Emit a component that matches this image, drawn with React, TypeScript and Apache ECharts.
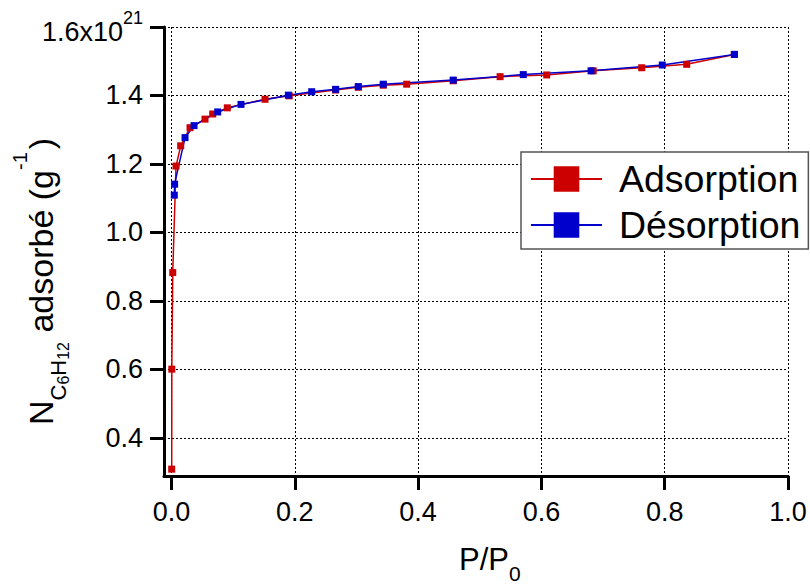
import React, { useEffect, useRef } from 'react';
import * as echarts from 'echarts';

// Adsorption branch (red)
const adsorptionP = [0.0003, 0.0005, 0.002, 0.0073, 0.0149, 0.030, 0.0543, 0.0668, 0.0905, 0.1517, 0.191, 0.266, 0.303, 0.3435, 0.3815, 0.457, 0.533, 0.6086, 0.684, 0.7627, 0.8357, 0.913];
const adsorptionN = [0.309, 0.601, 0.883, 1.194, 1.253, 1.306, 1.331, 1.346, 1.364, 1.389, 1.399, 1.416, 1.424, 1.430, 1.433, 1.443, 1.455, 1.460, 1.472, 1.481, 1.491, 1.520];

// Desorption branch (blue)
const desorptionP = [0.0045, 0.005, 0.0219, 0.0365, 0.0749, 0.1127, 0.1895, 0.2274, 0.2663, 0.303, 0.3435, 0.457, 0.5706, 0.6805, 0.7961, 0.913];
const desorptionN = [1.109, 1.141, 1.277, 1.312, 1.352, 1.374, 1.401, 1.411, 1.418, 1.426, 1.433, 1.445, 1.461, 1.472, 1.489, 1.520];

const xTicks = [0, 0.2, 0.4, 0.6, 0.8, 1.0];
const yTicks = [0.4, 0.6, 0.8, 1.0, 1.2, 1.4, 1.6];
const seriesNames = ['Adsorption', 'Désorption'];
const seriesColors = ['#cc0000', '#0000cc'];

const FONT = 'Liberation Sans';

const isTick = (v: number) => Math.abs(v / 0.2 - Math.round(v / 0.2)) < 1e-6;

export default function App() {
  const ref = useRef<HTMLDivElement>(null);
  useEffect(() => {
    document.body.style.margin = '0';
    const chart = echarts.init(ref.current!, null, { renderer: 'svg' });
    const zip = (xs: number[], ys: number[]) => xs.map((x, i) => [x, ys[i]]);
    const gridLine = { show: true, lineStyle: { color: '#000', width: 1, type: [2, 2] } };
    chart.setOption({
      animation: false,
      backgroundColor: '#fff',
      textStyle: { fontFamily: FONT },
      grid: { left: 164, right: 22, top: 27, bottom: 110 },
      xAxis: {
        type: 'value',
        min: -0.0122,
        max: 1.0,
        minInterval: 0.2,
        maxInterval: 0.2,
        axisLine: { onZero: false, lineStyle: { color: '#000', width: 3 } },
        axisTick: { show: true, inside: false, length: 14, customValues: xTicks, lineStyle: { color: '#000', width: 3 } },
        axisLabel: {
          customValues: xTicks,
          margin: 22,
          color: '#000',
          fontSize: 27,
          fontFamily: FONT,
          formatter: (v: number) => (isTick(v) ? v.toFixed(1) : ''),
        },
        splitLine: gridLine,
      },
      yAxis: {
        type: 'value',
        min: 0.289,
        max: 1.6,
        minInterval: 0.2,
        maxInterval: 0.2,
        axisLine: { show: true, onZero: false, lineStyle: { color: '#000', width: 3 } },
        axisTick: { show: true, inside: false, length: 14, customValues: yTicks, lineStyle: { color: '#000', width: 3 } },
        axisLabel: {
          customValues: yTicks,
          margin: 21,
          color: '#000',
          fontSize: 27,
          fontFamily: FONT,
          formatter: (v: number) => {
            if (!isTick(v)) return '';
            if (Math.abs(v - 1.6) < 1e-6) return '{a|1.6x10}{u|21}';
            return v.toFixed(1);
          },
          rich: {
            a: { fontSize: 27, fontFamily: FONT, color: '#000', verticalAlign: 'bottom' },
            u: { fontSize: 18, fontFamily: FONT, color: '#000', verticalAlign: 'top', padding: [0, 0, 18, 0] },
          },
        },
        splitLine: gridLine,
      },
      legend: {
        data: seriesNames,
        orient: 'vertical',
        left: 521,
        top: 152,
        padding: [8, 8, 5, 9],
        itemGap: 8,
        itemWidth: 71,
        itemHeight: 32,
        backgroundColor: '#fff',
        borderColor: '#555',
        borderWidth: 1.5,
        selectedMode: false,
        textStyle: { fontSize: 37.5, fontFamily: FONT, color: '#000', padding: [0, 0, 0, 12] },
      },
      series: [
        {
          name: seriesNames[0],
          type: 'line',
          data: zip(adsorptionP, adsorptionN),
          symbol: 'rect',
          symbolSize: 7,
          lineStyle: { color: seriesColors[0], width: 1.5 },
          itemStyle: { color: seriesColors[0] },
        },
        {
          name: seriesNames[1],
          type: 'line',
          data: zip(desorptionP, desorptionN),
          symbol: 'rect',
          symbolSize: 7,
          lineStyle: { color: seriesColors[1], width: 1.5 },
          itemStyle: { color: seriesColors[1] },
        },
      ],
      graphic: [
        {
          type: 'text',
          x: 40.5,
          y: 425,
          rotation: Math.PI / 2,
          style: {
            text: '{m|N}{s|C}{ss|6}{s|H}{ss|12}{m| adsorbé (g}{u|-1}{m|)}',
            align: 'left',
            verticalAlign: 'middle',
            textAlign: 'left',
            textVerticalAlign: 'middle',
            fill: '#000',
            fontFamily: FONT,
            fontSize: 34,
            rich: {
              m: { fontSize: 34, fontFamily: FONT, fill: '#000', verticalAlign: 'top', padding: [14, 0, 0, 0] },
              s: { fontSize: 22, fontFamily: FONT, fill: '#000', verticalAlign: 'top', padding: [37, 0, 0, 0] },
              ss: { fontSize: 16, fontFamily: FONT, fill: '#000', verticalAlign: 'top', padding: [45, 0, 0, 0] },
              u: { fontSize: 20, fontFamily: FONT, fill: '#000', verticalAlign: 'top', padding: [0, 3, 0, 0] },
            },
          },
        },
        {
          type: 'text',
          x: 459,
          y: 543.5,
          style: {
            text: '{a|P/P}{s|0}',
            align: 'left',
            verticalAlign: 'top',
            textAlign: 'left',
            textVerticalAlign: 'top',
            fill: '#000',
            fontFamily: FONT,
            fontSize: 31,
            rich: {
              a: { fontSize: 31, fontFamily: FONT, fill: '#000', verticalAlign: 'top' },
              s: { fontSize: 21, height: 16, fontFamily: FONT, fill: '#000', verticalAlign: 'top', padding: [22, 0, 0, 0] },
            },
          },
        },
      ],
    });
    return () => chart.dispose();
  }, []);
  return <div ref={ref} style={{ position: 'fixed', left: 0, top: 0, width: 810, height: 586 }} />;
}
